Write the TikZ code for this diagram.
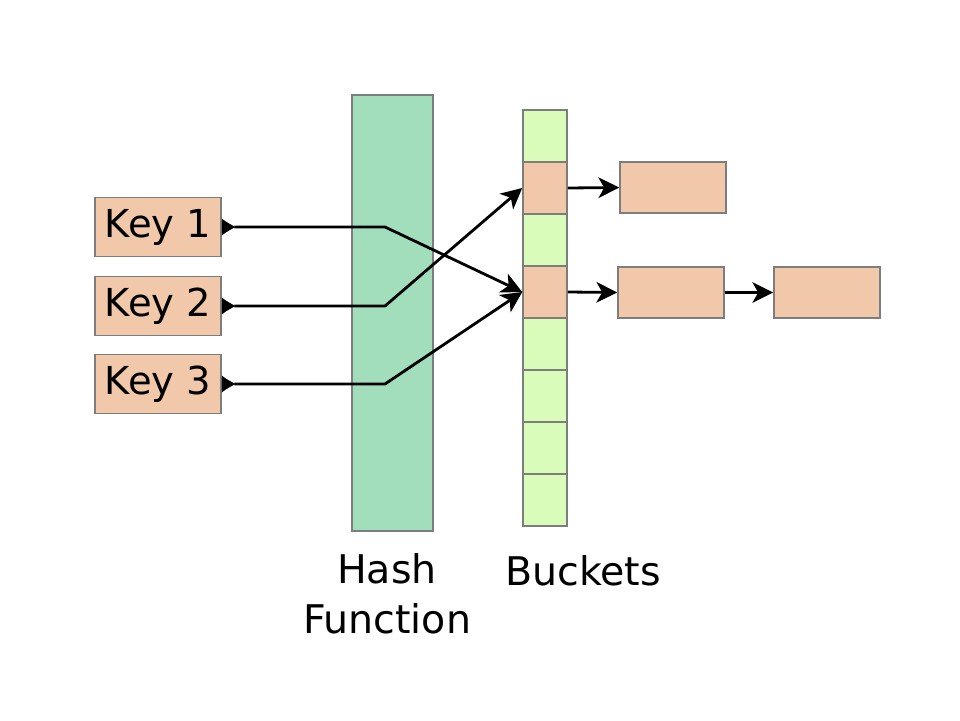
\documentclass[tikz,border=0pt]{standalone}
\usepackage{fontspec}
\setmainfont{DejaVu Sans}
\usetikzlibrary{arrows.meta}
\definecolor{keyfill}{HTML}{F2C8AA}
\definecolor{hashfill}{HTML}{A2DEBC}
\definecolor{cellfill}{HTML}{DAFCBA}
\definecolor{edge}{HTML}{7D7D7D}
\begin{document}
\begin{tikzpicture}[x=1pt,y=-1pt,
  box/.style={draw=edge,line width=1.6pt,minimum width=#1,inner sep=0pt},
  keybox/.style={box=126pt,fill=keyfill,minimum height=59pt,font=\fontsize{38.5}{44}\selectfont},
  cell/.style={box=44pt,minimum height=52pt,fill=cellfill},
  used/.style={fill=keyfill},
  chain/.style={box=106pt,minimum height=51pt,fill=keyfill},
  link/.style={line width=2.8pt,line join=round,
    -{Stealth[length=21pt,width=21pt,inset=6pt,line width=0pt]}},
  keylink/.style={link,
    {Latex[reversed,length=14pt,width=17pt,line width=0pt]}-{Stealth[length=21pt,width=21pt,inset=6pt,line width=0pt]}},
  caption/.style={font=\fontsize{39.5}{50}\selectfont,align=center}]
\useasboundingbox (0,0) rectangle (960,720);
\fill[white] (0,0) rectangle (960,720);

% keys
\node[keybox] (k1) at (158,227) {Key 1};
\node[keybox] (k2) at (158,306) {Key 2};
\node[keybox] (k3) at (158,384) {Key 3};

% hash function block
\node[box=81pt,minimum height=436pt,fill=hashfill] (hash) at (392.5,313) {};

% bucket array
\foreach \i/\y in {1/136,2/188,3/240,4/292,5/344,6/396,7/448,8/500}
  \node[cell] (b\i) at (545,\y) {};
\node[cell,used] at (b2) {};
\node[cell,used] at (b4) {};

% chained entries
\node[chain] (c1) at (673,187.5) {};
\node[chain] (c2) at (671,292.5) {};
\node[chain] (c3) at (827,292.5) {};

% bends inside the hash function
\coordinate (bend) at (385,0);
\coordinate (h1) at (bend |- k1.east);
\coordinate (h2) at (bend |- k2.east);
\coordinate (h3) at (bend |- k3.east);

\draw[keylink] (k1.east) -- (h1) -- (b4.west);
\draw[keylink] (k2.east) -- (h2) -- (b2.west);
\draw[keylink] (k3.east) -- (h3) -- (b4.west);

\draw[link] (b2.east) -- (c1.west);
\draw[link] (b4.east) -- (c2.west);
\draw[link] (c2.east) -- (c3.west);

% captions
\node[caption] (hl) at (387,594) {Hash\\Function};
\node[caption] (bl) at (583,571) {Buckets};
\end{tikzpicture}
\end{document}
